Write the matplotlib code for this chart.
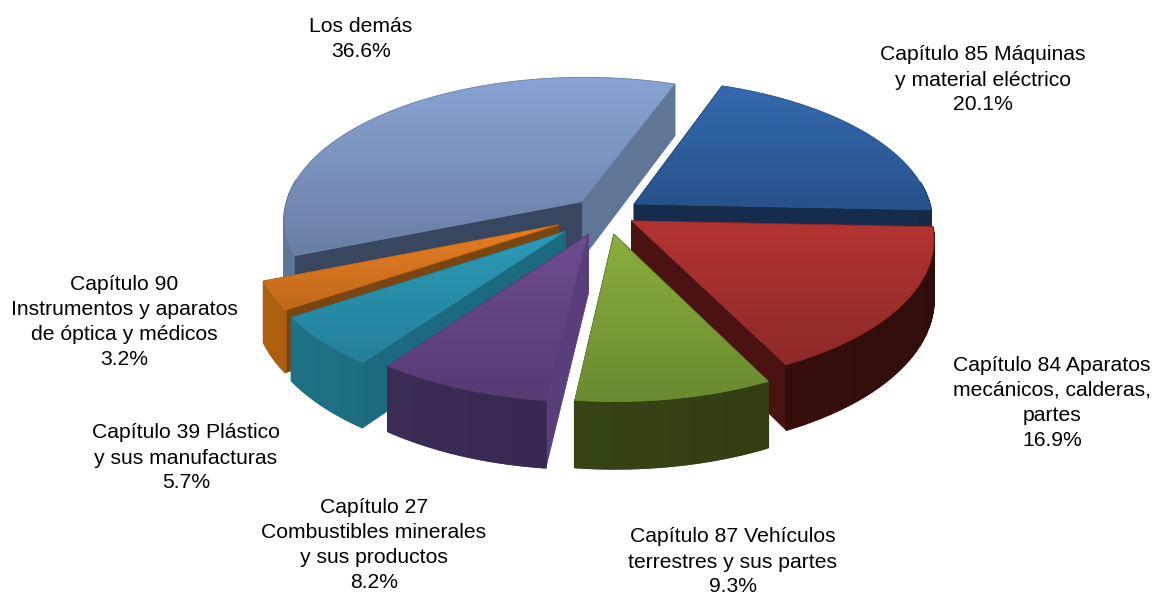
import numpy as np
import matplotlib
matplotlib.use('Agg')
import matplotlib.pyplot as plt
from matplotlib.colors import LinearSegmentedColormap
from matplotlib.patches import Polygon

labels = ['Capítulo 85 Máquinas\ny material eléctrico',
          'Capítulo 84 Aparatos\nmecánicos, calderas,\npartes',
          'Capítulo 87 Vehículos\nterrestres y sus partes',
          'Capítulo 27\nCombustibles minerales\ny sus productos',
          'Capítulo 39 Plástico\ny sus manufacturas',
          'Capítulo 90\nInstrumentos y aparatos\nde óptica y médicos',
          'Los demás']
shares = [20.1, 16.9, 9.3, 8.2, 5.7, 3.2, 36.6]

# label centres in pixels
label_x = [983, 1052, 733, 374, 186, 124, 361]
label_y = [80, 403, 562, 545, 458, 322, 39]

# top light, top dark, wall colour, cut face colour
top_hi = ['#3369ae', '#b33432', '#8bae3e', '#6c4c90', '#2b9bb8', '#e87d22', '#88a4d4']
top_lo = ['#27528a', '#8e2a28', '#6a8a30', '#573b75', '#25809a', '#c06a1c', '#6a7ea6']
wall = ['#1c3a60', '#441210', '#3e4f18', '#3f2f5c', '#1f7488', '#b0600f', '#5f7696']
cut = ['#152c4e', '#4a1210', '#37490f', '#5a3e7c', '#1c6a80', '#7a4510', '#38465f']
explode = [34, 30, 44, 47, 55, 53, 34]

start_angle = 20.0
cx, cy = 606, 213
rx, ry = 298, 142
depth = 58
persp = 0.12


def project(ang, r, z, off):
    # ang clockwise from back of the pie, r in 0-1, z 0 top and 1 bottom
    u = r * np.sin(ang) + off[0]
    v = -r * np.cos(ang) + off[1]
    s = 1 / (1 - persp * v)
    return np.column_stack([cx + rx * u * s, cy + ry * v * s + depth * z * s])


fig = plt.figure(figsize=(11.56, 5.98), dpi=100)
ax = fig.add_axes([0, 0, 1, 1])
ax.set_xlim(0, 1156)
ax.set_ylim(598, 0)
ax.axis('off')

edges = start_angle + np.cumsum([0] + shares) * 3.6
slices = []
for i in range(len(shares)):
    a0, a1 = np.radians(edges[i]), np.radians(edges[i + 1])
    mid = (a0 + a1) / 2
    off = (explode[i] / rx * np.sin(mid), -explode[i] / rx * np.cos(mid))
    slices.append((-np.cos(mid), i, a0, a1, off))

# back slices first, so the front ones cover them
for order, (_, i, a0, a1, off) in enumerate(sorted(slices)):
    base = 2 + order * 3
    arc = np.linspace(a0, a1, 90)
    apex_t = project(np.array([0.0]), 0, 0, off)
    apex_b = project(np.array([0.0]), 0, 1, off)

    # radial cut faces
    for a in sorted([a0, a1], key=lambda q: -np.cos(q)):
        rim_t = project(np.array([a]), 1, 0, off)
        rim_b = project(np.array([a]), 1, 1, off)
        c = wall[i] if i == 6 and a == a1 else cut[i]
        ax.add_patch(Polygon(np.vstack([apex_t, rim_t, rim_b, apex_b]), fc=c, ec=c, lw=0.5, zorder=base))

    # outer wall in strips, a bit darker towards the right
    cm = LinearSegmentedColormap.from_list('w', [wall[i], '#000000'])
    for k in range(len(arc) - 1):
        if np.cos((arc[k] + arc[k + 1]) / 2) > 0.15:
            continue
        t = project(arc[k:k + 2], 1, 0, off)
        b = project(arc[k:k + 2], 1, 1, off)
        c = cm(0.3 * (0.5 + 0.5 * np.sin(arc[k])))
        ax.add_patch(Polygon(np.vstack([t, b[::-1]]), fc=c, ec=c, lw=1.2, zorder=base + 1))

    # top face with vertical gradient
    top = np.vstack([apex_t, project(arc, 1, 0, off)])
    face = Polygon(top, fc='none', ec='none', transform=ax.transData)
    ax.add_patch(face)
    cmap = LinearSegmentedColormap.from_list('t', [top_hi[i], top_lo[i]])
    im = ax.imshow(np.linspace(0, 1, 128).reshape(-1, 1), cmap=cmap, aspect='auto',
                   extent=[top[:, 0].min(), top[:, 0].max(), top[:, 1].max(), top[:, 1].min()],
                   zorder=base + 2)
    im.set_clip_path(face)
    ax.add_patch(Polygon(top, fc='none', ec=top_lo[i], lw=0.6, zorder=base + 2))

ax.set_xlim(0, 1156)
ax.set_ylim(598, 0)

for lab, val, x, y in zip(labels, shares, label_x, label_y):
    ax.text(x, y, '%s\n%.1f%%' % (lab, val), ha='center', va='center', fontsize=15.2,
            family='Liberation Sans', color='black', linespacing=1.4, zorder=50)

plt.savefig('out.png', dpi=100)
plt.close(fig)
